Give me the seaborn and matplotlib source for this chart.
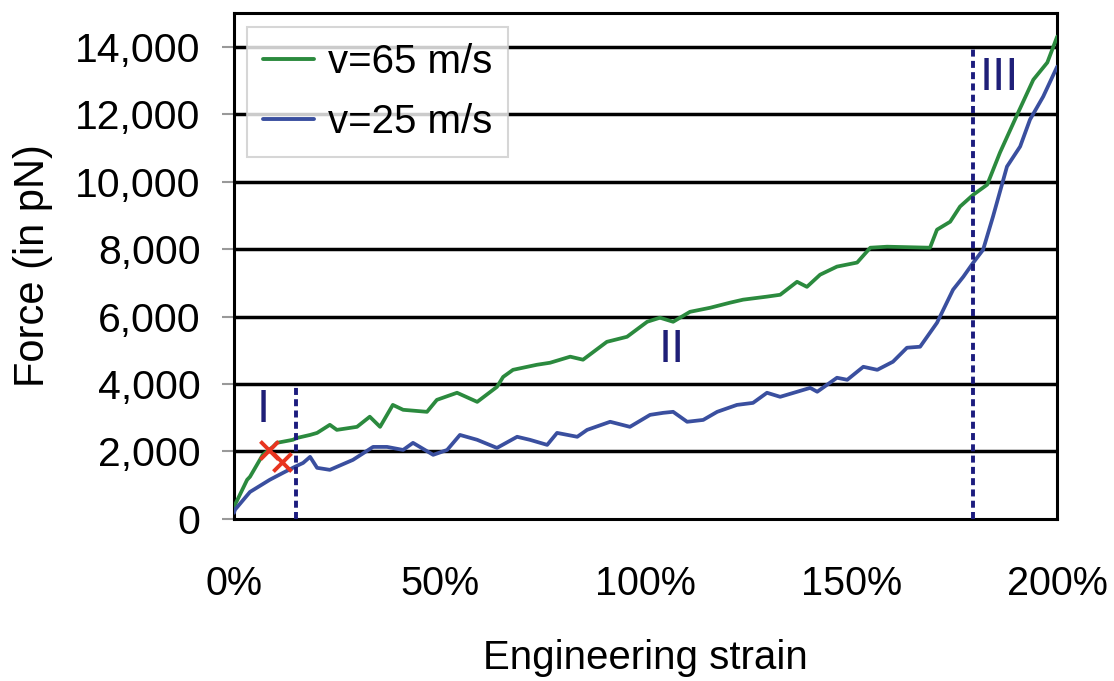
import numpy as np
import pandas as pd
import matplotlib
matplotlib.use("Agg")
import matplotlib.pyplot as plt
import seaborn as sns
from matplotlib.ticker import FuncFormatter

# ---- data (strain in %, force in pN) ----
strain_65 = [0, 0.24, 3.2, 3.9, 7.0, 9.5, 10.4, 14.3, 15.3, 18.5, 20.2, 23.3, 25.0, 29.9, 33.0,
             35.5, 38.6, 41.1, 46.9, 49.3, 54.2, 59.1, 63.9, 65.4, 67.8, 73.6, 76.8, 81.7, 84.8,
             90.6, 95.5, 100.4, 103.5, 106.7, 110.8, 115.7, 120.5, 123.7, 129.5, 132.7, 136.8,
             139.2, 142.4, 146.5, 151.4, 154.6, 158.7, 169.1, 170.8, 174.0, 176.4, 179.6, 183.0,
             186.1, 190.3, 194.2, 197.6, 200]
force_65 = [210, 415, 1160, 1250, 1900, 2140, 2255, 2345, 2400, 2490, 2550, 2790, 2640, 2730, 3030,
            2730, 3380, 3235, 3175, 3530, 3740, 3470, 3915, 4210, 4420, 4570, 4630, 4810, 4720,
            5250, 5400, 5845, 5965, 5845, 6140, 6260, 6410, 6500, 6590, 6645, 7030,
            6880, 7240, 7480, 7600, 8040, 8070, 8040, 8575, 8810, 9260, 9610, 9910,
            10860, 11990, 13020, 13530, 14300]

strain_25 = [0, 0.24, 3.9, 8.7, 11.9, 14.8, 16.8, 18.5, 20.2, 23.3, 28.9, 33.8, 37.2, 41.1, 43.5,
             48.4, 51.8, 54.9, 59.1, 63.9, 68.8, 71.9, 76.1, 78.5, 83.4, 85.8, 91.4, 96.2, 101.1,
             104.3, 106.7, 110.1, 114.0, 117.4, 122.2, 126.1, 129.5, 132.7, 140.0, 141.7, 146.5,
             149.0, 152.9, 156.3, 160.1, 163.5, 166.7, 170.8, 174.7, 177.2, 179.6, 182.0, 184.4,
             187.8, 191.0, 193.4, 196.6, 200]
force_25 = [180, 270, 800, 1160, 1365, 1545, 1660, 1840, 1515, 1455, 1750, 2135, 2135, 2045, 2255,
            1900, 2045, 2490, 2345, 2105, 2435, 2345, 2195, 2550, 2435, 2640, 2880, 2730, 3085,
            3145, 3175, 2880, 2935, 3175, 3380, 3440, 3740, 3620, 3885, 3770, 4185,
            4125, 4510, 4420, 4660, 5075, 5105, 5815, 6795, 7180, 7595, 7980, 8960,
            10445, 11040, 11840, 12520, 13410]

series_labels = ["v=65 m/s", "v=25 m/s"]
series_colors = ["#2b8a3e", "#3a4f9f"]

cross_strain = [8.5, 11.7]
cross_force = [2050, 1690]

region_lines = [15, 179.5]
region_line_top = [4000, 14000]
region_labels = ["I", "II", "III"]
region_label_x = [7, 106.4, 186]
region_label_y = [3230, 5015, 13085]

x_ticks = [0, 50, 100, 150, 200]
y_ticks = [0, 2000, 4000, 6000, 8000, 10000, 12000, 14000]

df = pd.concat([
    pd.DataFrame({"strain": strain_65, "force": force_65, "series": series_labels[0]}),
    pd.DataFrame({"strain": strain_25, "force": force_25, "series": series_labels[1]}),
], ignore_index=True)

sns.set_theme(style="white")
plt.rcParams["font.family"] = ["Liberation Sans", "DejaVu Sans"]
plt.rcParams["text.color"] = "black"
plt.rcParams["axes.labelcolor"] = "black"
plt.rcParams["xtick.color"] = "black"
plt.rcParams["ytick.color"] = "black"

fig = plt.figure(figsize=(11.14, 6.81), dpi=100)
ax = fig.add_axes([0.210, 0.238, 0.739, 0.743])

# horizontal grid lines
for yv in y_ticks[1:]:
    ax.axhline(yv, color="black", lw=2.5, zorder=1)

sns.lineplot(data=df, x="strain", y="force", hue="series", hue_order=series_labels,
             palette=dict(zip(series_labels, series_colors)), sort=False,
             estimator=None, lw=2.7, ax=ax, zorder=3)

# region separators
for xv, top in zip(region_lines, region_line_top):
    ax.plot([xv, xv], [0, top], color="#1c1c7e", lw=2.8,
            linestyle=(0, (1.8, 1.1)), zorder=4)

for t, xv, yv in zip(region_labels, region_label_x, region_label_y):
    ax.text(xv, yv, t, color="#1f1f78", fontsize=34, ha="center", va="center", zorder=5)

ax.scatter(cross_strain, cross_force, marker="x", s=170, color="#e8341f", linewidths=2.8, zorder=6)

ax.set_xlim(0, 200)
ax.set_ylim(0, 15000)
ax.set_xticks(x_ticks)
ax.set_yticks(y_ticks)
ax.xaxis.set_major_formatter(FuncFormatter(lambda v, p: f"{v:.0f}%"))
ax.yaxis.set_major_formatter(FuncFormatter(lambda v, p: f"{v:,.0f}"))
ax.tick_params(axis="y", which="major", direction="out", length=9, width=1.5, color="#999999",
               labelsize=29.5, pad=15, left=True)
ax.tick_params(axis="x", which="major", length=0, labelsize=28.5, pad=33)

for s in ax.spines.values():
    s.set_color("black")
    s.set_linewidth(2.2)

ax.set_xlabel("Engineering strain", fontsize=29, labelpad=26)
ax.set_ylabel("Force (in pN)", fontsize=30, labelpad=16)

leg = ax.legend(loc="upper left", bbox_to_anchor=(0.016, 0.972), fontsize=29, frameon=True,
                fancybox=False, edgecolor="#cccccc", handlelength=1.25, handletextpad=0.35,
                borderpad=0.4, labelspacing=0.55, borderaxespad=0, title=None)
leg.get_frame().set_linewidth(1.5)
for line in leg.get_lines():
    line.set_linewidth(2.8)

fig.savefig("out.png", dpi=100, facecolor="white")
